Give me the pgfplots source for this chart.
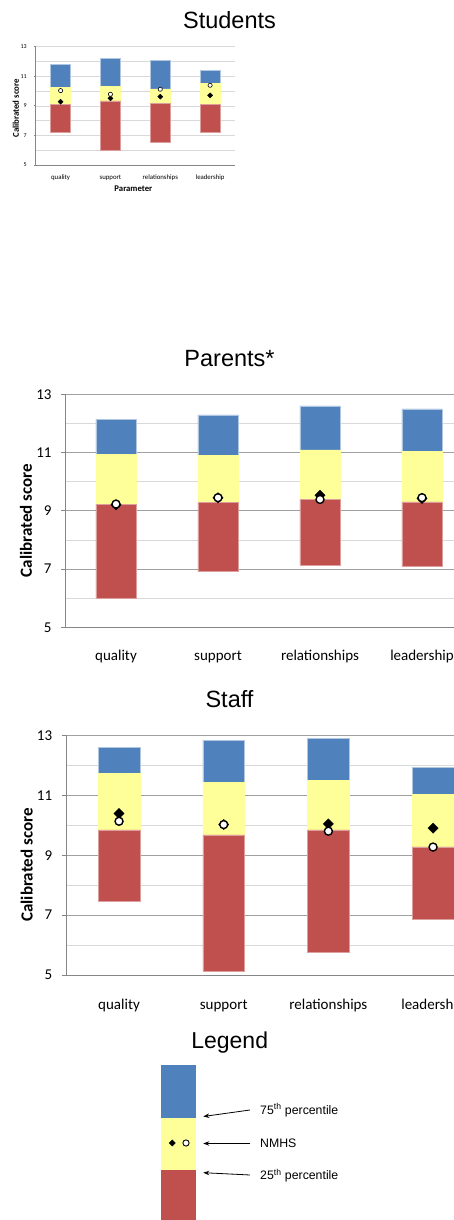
\documentclass[border=0pt]{standalone}
\usepackage{pgfplots}
\pgfplotsset{compat=1.18}
\usepackage{pgfplotstable}
\usepackage{fontspec}
\setmainfont{Carlito}
\newfontfamily\arialf{Liberation Sans}
\usetikzlibrary{arrows.meta}
\definecolor{cblue}{RGB}{79,129,189}
\definecolor{cyel}{RGB}{255,255,153}
\definecolor{cred}{RGB}{192,80,77}
\definecolor{axgray}{RGB}{134,134,134}
\definecolor{gmaj}{RGB}{160,160,160}
\definecolor{gmin}{RGB}{217,217,217}

% columns: rb = bottom of red (lower bar end), rt = 25th percentile, yt = 75th percentile, bt = top of blue
\pgfplotstableread{
x rb rt yt bt dia circ
0 7.21 9.12 10.25 11.80 9.28 10.03
1 6.01 9.33 10.34 12.19 9.51 9.78
2 6.51 9.17 10.14 12.08 9.62 10.12
3 7.21 9.12 10.50 11.40 9.71 10.39
}\students
\pgfplotstableread{
x rb rt yt bt dia circ
0 6.00 9.23 10.94 12.14 9.21 9.23
1 6.91 9.28 10.89 12.29 9.45 9.45
2 7.14 9.38 11.09 12.60 9.53 9.39
3 7.08 9.31 11.03 12.50 9.42 9.45
}\parents
\pgfplotstableread{
x rb rt yt bt dia circ
0 7.45 9.84 11.74 12.60 10.39 10.13
1 5.14 9.68 11.44 12.84 10.02 10.02
2 5.75 9.84 11.49 12.89 10.04 9.80
3 6.85 9.28 11.04 11.94 9.90 9.27
}\staff

\pgfplotsset{
  base/.style={scale only axis, xmin=-0.5, xmax=3.5, ymin=5, ymax=13, anchor=south west},
  chart/.style={base, ybar stacked, axis lines*=left,
    axis line style={axgray, line width=0.8pt},
    xtick={0,1,2,3}, xticklabels={quality,support,relationships,leadership},
    xtick style={draw=none},
    ytick={5,7,9,11,13}, minor ytick={6,8,10,12},
    ymajorgrids, yminorgrids,
    major grid style={gmaj, line width=0.8pt},
    minor grid style={gmin, line width=0.8pt},
    tick align=outside, ytick style={axgray, line width=0.8pt},
    minor tick length=0pt,
    /pgf/number format/assume math mode=true},
  marksax/.style={base, hide axis, clip=false},
}
\newcommand\bars[1]{%
  \addplot[draw=none, fill=none] table[x=x, y=rb]{#1};
  \addplot[fill=cred, draw=cred!55!white, line width=0.5pt] table[x=x, y expr=\thisrow{rt}-\thisrow{rb}]{#1};
  \addplot[fill=cyel, draw=cyel, line width=0.5pt] table[x=x, y expr=\thisrow{yt}-\thisrow{rt}]{#1};
  \addplot[fill=cblue, draw=cblue!45!white, line width=0.5pt] table[x=x, y expr=\thisrow{bt}-\thisrow{yt}]{#1};
}
\newcommand\pts[4]{% table, diamond size, circle size, circle line width
  \addplot[only marks, mark=square*, mark size=#2, mark options={rotate=45, fill=black, draw=black}] table[x=x, y=dia]{#1};
  \addplot[only marks, mark=*, mark size=#3, mark options={fill=white, draw=black, line width=#4}] table[x=x, y=circ]{#1};
}

\begin{document}
\begin{tikzpicture}
% ---------- titles ----------
\node[anchor=base, font=\arialf\fontsize{23.5}{23.5}\selectfont, inner sep=0pt] at (229.5pt,1191.7pt) {Students};
\node[anchor=base, font=\arialf\fontsize{23.5}{23.5}\selectfont, inner sep=0pt] at (229.5pt,853.3pt) {Parents*};
\node[anchor=base, font=\arialf\fontsize{23.5}{23.5}\selectfont, inner sep=0pt] at (229.5pt,512.7pt) {Staff};
\node[anchor=base, font=\arialf\fontsize{23}{23}\selectfont, inner sep=0pt] at (229.7pt,171.7pt) {Legend};

% ---------- Students ----------
\begin{axis}[chart, at={(35.7pt,1055pt)}, width=199.3pt, height=118.3pt,
  bar width=20pt, major tick length=2pt,
  major grid style={gmin, line width=0.6pt},
  axis line style={axgray, line width=0.6pt},
  yticklabel style={font=\fontsize{6}{6}\selectfont, xshift=-3.5pt},
  xticklabel style={font=\fontsize{6.8}{6.8}\selectfont, anchor=base, yshift=-12.3pt},
  ylabel={Calibrated score}, xlabel={Parameter},
  ylabel style={font=\bfseries\fontsize{8.8}{8.8}\selectfont, at={(axis description cs:-0.1,0.479)}, anchor=center},
  xlabel style={font=\bfseries\fontsize{8.7}{8.7}\selectfont, at={(axis description cs:0.49,-0.203)}, anchor=center}]
\bars{\students}
\end{axis}
\begin{axis}[marksax, at={(35.7pt,1055pt)}, width=199.3pt, height=118.3pt]
\pts{\students}{1.8pt}{2.1pt}{0.6pt}
\end{axis}

% ---------- Parents ----------
\begin{axis}[chart, at={(65pt,592.7pt)}, width=408pt, height=233pt,
  bar width=40.3pt, major tick length=4pt,
  yticklabel style={font=\fontsize{15}{15}\selectfont, xshift=-6pt},
  xticklabel style={font=\fontsize{15}{15}\selectfont, anchor=base, yshift=-29.4pt},
  ylabel={Calibrated score},
  ylabel style={font=\bfseries\fontsize{17}{17}\selectfont, at={(axis description cs:-0.0956,0.4575)}, anchor=center}]
\bars{\parents}
\end{axis}
\begin{axis}[marksax, at={(65pt,592.7pt)}, width=408pt, height=233pt]
\pts{\parents}{3.6pt}{4pt}{1.4pt}
\end{axis}

% ---------- Staff ----------
\begin{axis}[chart, at={(66.7pt,245pt)}, width=418.7pt, height=239.7pt,
  bar width=41.7pt, major tick length=5pt,
  yticklabel style={font=\fontsize{15}{15}\selectfont, xshift=-6pt},
  xticklabel style={font=\fontsize{15}{15}\selectfont, anchor=base, yshift=-30pt},
  ylabel={Calibrated score},
  ylabel style={font=\bfseries\fontsize{17}{17}\selectfont, at={(axis description cs:-0.0955,0.459)}, anchor=center}]
\bars{\staff}
\end{axis}
\begin{axis}[marksax, at={(66.7pt,245pt)}, width=418.7pt, height=239.7pt]
\pts{\staff}{3.6pt}{4pt}{1.4pt}
\end{axis}

% ---------- Legend ----------
\begin{axis}[scale only axis, anchor=south west, at={(130pt,0pt)}, width=324pt, height=200pt,
  xmin=130, xmax=454, ymin=0, ymax=200, hide axis, clip=false, ybar stacked, bar width=35pt]
\addplot[fill=cred, draw=none] coordinates {(178.5,50)};
\addplot[fill=cyel, draw=none] coordinates {(178.5,51.7)};
\addplot[fill=cblue, draw=none] coordinates {(178.5,53.3)};
\end{axis}
\begin{axis}[scale only axis, anchor=south west, at={(130pt,0pt)}, width=324pt, height=200pt,
  xmin=130, xmax=454, ymin=0, ymax=200, hide axis, clip=false]
\addplot[only marks, mark=square*, mark size=2.2pt, mark options={rotate=45, fill=black, draw=black}] coordinates {(172.3,77)};
\addplot[only marks, mark=*, mark size=3.1pt, mark options={fill=white, draw=black, line width=0.9pt}] coordinates {(186,77)};
\addplot[black, line width=0.8pt, -{Stealth[length=6pt, width=4.5pt]}] coordinates {(250,110) (203.3,103.5)};
\addplot[black, line width=0.8pt, -{Stealth[length=6pt, width=4.5pt]}] coordinates {(250,76.5) (203.3,76.5)};
\addplot[black, line width=0.8pt, -{Stealth[length=6pt, width=4.5pt]}] coordinates {(250,45) (203.3,47.3)};
\node[anchor=base west, inner sep=0pt, font=\arialf\fontsize{12.3}{12.3}\selectfont] at (axis cs:260,105.7) {75\textsuperscript{th} percentile};
\node[anchor=base west, inner sep=0pt, font=\arialf\fontsize{12.3}{12.3}\selectfont] at (axis cs:260,72.7) {NMHS};
\node[anchor=base west, inner sep=0pt, font=\arialf\fontsize{12.3}{12.3}\selectfont] at (axis cs:260,40) {25\textsuperscript{th} percentile};
\end{axis}

\pgfresetboundingbox
\useasboundingbox (0pt,0pt) rectangle (454pt,1220pt);
\end{tikzpicture}
\end{document}
